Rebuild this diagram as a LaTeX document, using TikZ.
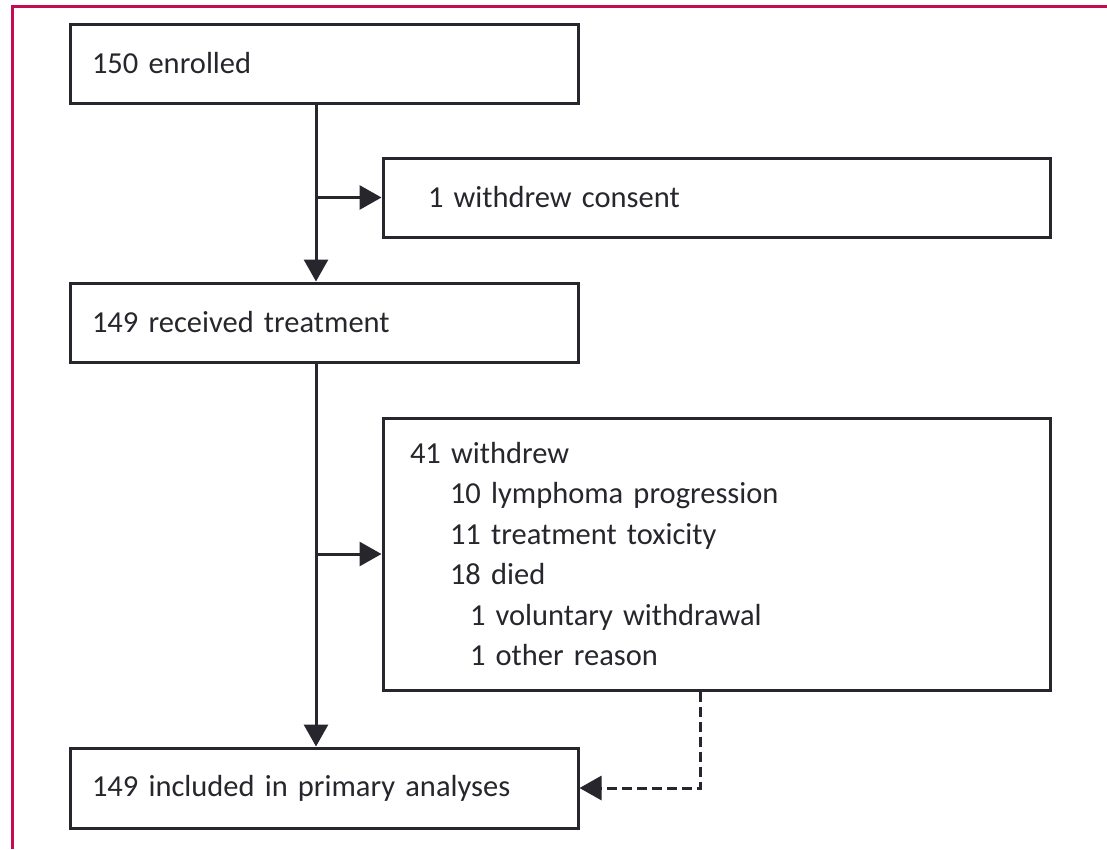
\documentclass[tikz,border=0pt]{standalone}
\usepackage{fontspec}
\setmainfont{Carlito}
\usetikzlibrary{arrows.meta}
\definecolor{frame}{RGB}{196,12,82}
\definecolor{ink}{RGB}{38,38,44}
\tikzset{
  box/.style={draw=ink, line width=3pt, rectangle, inner ysep=0pt, minimum height=79pt, align=left, text=ink},
  arr/.style={draw=ink, line width=3pt, -{Triangle[length=22pt,width=24pt]}},
  darr/.style={arr, dash pattern=on 10pt off 5pt}
}
\begin{document}
\begin{tikzpicture}[x=1pt,y=-1pt, font=\fontsize{30.5}{40.5}\selectfont]
\useasboundingbox (0,0) rectangle (1107,849);
\fill[white] (0,0) rectangle (1107,849);
\draw[frame, line width=3pt] (12,849) -- (12,6) -- (1107,6);
\node[box, inner xsep=22pt, text width=464pt] (b1) at (324,63.5) {150 enrolled};
\node[box, inner xsep=45pt, text width=577pt] (b2) at (716.5,197.5) {1 withdrew consent};
\node[box, inner xsep=22pt, text width=464pt] (b3) at (324,322.5) {149 received treatment};
\node[box, inner xsep=27pt, text width=613pt, minimum height=272pt] (b4) at (716.5,554) {41 withdrew\\
\hspace*{40pt}10 lymphoma progression\\
\hspace*{40pt}11 treatment toxicity\\
\hspace*{40pt}18 died\\
\hspace*{60pt}1 voluntary withdrawal\\
\hspace*{60pt}1 other reason};
\node[box, inner xsep=22pt, text width=464pt, minimum height=80pt] (b5) at (324,788) {149 included in primary analyses};
\coordinate (tk) at (316,0);
\coordinate (dx) at (700,0);
\draw[arr] (b1.south -| tk) -- (b3.north -| tk);
\draw[arr] (b2.west -| tk) -- (b2.west);
\draw[arr] (b3.south -| tk) -- (b5.north -| tk);
\draw[arr] (b4.west -| tk) -- (b4.west);
\draw[darr] (b4.south -| dx) |- (b5.east);
\end{tikzpicture}
\end{document}
